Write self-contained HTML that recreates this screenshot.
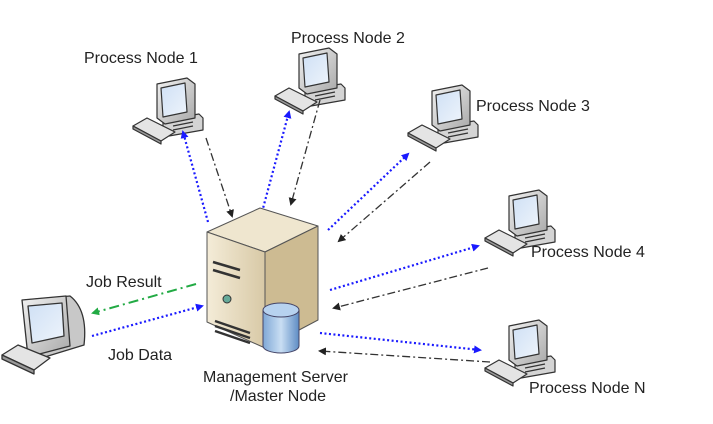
<!DOCTYPE html>
<html><head><meta charset="utf-8"><style>
html,body{margin:0;padding:0;background:#fff;}
svg{display:block;}
text{font-family:"Liberation Sans",Arial,sans-serif;font-size:16px;fill:#222;}
</style></head><body>
<svg width="713" height="424" viewBox="0 0 713 424" xmlns="http://www.w3.org/2000/svg">
<defs>
<linearGradient id="mon" x1="0" y1="0" x2="1" y2="1"><stop offset="0" stop-color="#f2f2f2"/><stop offset="1" stop-color="#a8a8a8"/></linearGradient>
<linearGradient id="scr" x1="0" y1="0" x2="1" y2="1"><stop offset="0" stop-color="#cfe0f5"/><stop offset="1" stop-color="#eef4fb"/></linearGradient>
<linearGradient id="srv" x1="0" y1="0" x2="1" y2="0"><stop offset="0" stop-color="#f4ecd8"/><stop offset="1" stop-color="#d8c9a6"/></linearGradient>
<linearGradient id="cyl" x1="0" y1="0" x2="1" y2="0"><stop offset="0" stop-color="#7fa8d6"/><stop offset="0.5" stop-color="#c9def3"/><stop offset="1" stop-color="#5e8cc4"/></linearGradient>
<g id="pc" stroke="#333" stroke-width="1.2" stroke-linejoin="round">
  <polygon points="30,42 66,36 70,40 70,52 36,58 30,54" fill="#d4d4d4"/>
  <line x1="40" y1="48" x2="60" y2="44" stroke="#333"/>
  <line x1="40" y1="52" x2="60" y2="48" stroke="#333"/>
  <polygon points="24,6 54,0 62,6 62,40 32,46 24,40" fill="url(#mon)"/>
  <polygon points="28,10 52,5 54,34 30,39" fill="url(#scr)"/>
  <polygon points="0,48 14,40 42,54 28,63" fill="#e4e4e4"/>
  <polygon points="0,48 28,63 28,66 0,51" fill="#999"/>
</g>
<marker id="ab" markerWidth="8" markerHeight="8" refX="6" refY="4" orient="auto" markerUnits="userSpaceOnUse"><path d="M0,0 L8,4 L0,8 z" fill="#1a1aff"/></marker>
<marker id="ak" markerWidth="8" markerHeight="8" refX="6" refY="4" orient="auto" markerUnits="userSpaceOnUse"><path d="M0,0 L8,4 L0,8 z" fill="#222"/></marker>
<marker id="ag" markerWidth="8" markerHeight="8" refX="6" refY="4" orient="auto" markerUnits="userSpaceOnUse"><path d="M0,0 L8,4 L0,8 z" fill="#22aa44"/></marker>
</defs>

<use href="#pc" x="133" y="78"/>
<use href="#pc" x="275" y="48"/>
<use href="#pc" x="408" y="85"/>
<use href="#pc" x="485" y="190"/>
<use href="#pc" x="485" y="320"/>

<text x="84" y="63">Process Node 1</text>
<text x="291" y="43">Process Node 2</text>
<text x="476" y="111">Process Node 3</text>
<text x="531" y="257">Process Node 4</text>
<text x="529" y="393" fill="#444">Process Node N</text>

<g fill="none" stroke-width="2.2" stroke="#1a1aff" stroke-dasharray="2,2.5">
<line x1="208" y1="222" x2="183" y2="132" marker-end="url(#ab)"/>
<line x1="262" y1="212" x2="289" y2="112" marker-end="url(#ab)"/>
<line x1="328" y1="230" x2="408" y2="154" marker-end="url(#ab)"/>
<line x1="330" y1="290" x2="478" y2="246" marker-end="url(#ab)"/>
<line x1="320" y1="333" x2="480" y2="350" marker-end="url(#ab)"/>
<line x1="92" y1="336" x2="202" y2="306" marker-end="url(#ab)"/>
</g>
<g fill="none" stroke-width="1.3" stroke="#333" stroke-dasharray="8,3,2,3">
<line x1="206" y1="138" x2="232" y2="216" marker-end="url(#ak)"/>
<line x1="320" y1="100" x2="291" y2="204" marker-end="url(#ak)"/>
<line x1="430" y1="162" x2="339" y2="241" marker-end="url(#ak)"/>
<line x1="488" y1="268" x2="334" y2="308" marker-end="url(#ak)"/>
<line x1="490" y1="362" x2="320" y2="351" marker-end="url(#ak)"/>
</g>
<line x1="196" y1="284" x2="93" y2="313" stroke="#22aa44" stroke-width="2" stroke-dasharray="10,4,2,4" marker-end="url(#ag)"/>

<g stroke="#555" stroke-width="1" stroke-linejoin="round">
<polygon points="207,232 260,208 318,226 265,252" fill="#efe6cf"/>
<polygon points="265,252 318,226 318,320 265,348" fill="#cdbb92"/>
<polygon points="207,232 265,252 265,348 207,322" fill="url(#srv)"/>
</g>
<g stroke="#333" stroke-width="2.5" fill="none">
<line x1="213" y1="262" x2="240" y2="270"/>
<line x1="213" y1="270" x2="240" y2="278"/>
<line x1="215" y1="321" x2="250" y2="333"/>
<line x1="215" y1="326" x2="250" y2="338"/>
<line x1="215" y1="331" x2="250" y2="343"/>
</g>
<circle cx="227" cy="299" r="4" fill="#6a9" stroke="#333"/>
<g stroke="#446" stroke-width="1">
<path d="M263,310 v36 a18,7 0 0 0 36,0 v-36" fill="url(#cyl)"/>
<ellipse cx="281" cy="310" rx="18" ry="7" fill="#b7d2ef"/>
</g>
<text x="203" y="382">Management Server</text>
<text x="230" y="401">/Master Node</text>

<g stroke="#333" stroke-width="1.3" stroke-linejoin="round">
<path d="M25,300 L70,296 Q88,310 84,345 L35,360 Z" fill="#c8c8c8"/>
<polygon points="22,300 66,296 70,346 28,357" fill="url(#mon)"/>
<polygon points="28,306 62,303 64,336 32,343" fill="url(#scr)"/>
<polygon points="2,355 18,345 50,358 34,370" fill="#e4e4e4"/>
<polygon points="2,355 34,370 34,374 2,359" fill="#999"/>
</g>
<text x="86" y="287">Job Result</text>
<text x="108" y="360">Job Data</text>
</svg>
</body></html>
